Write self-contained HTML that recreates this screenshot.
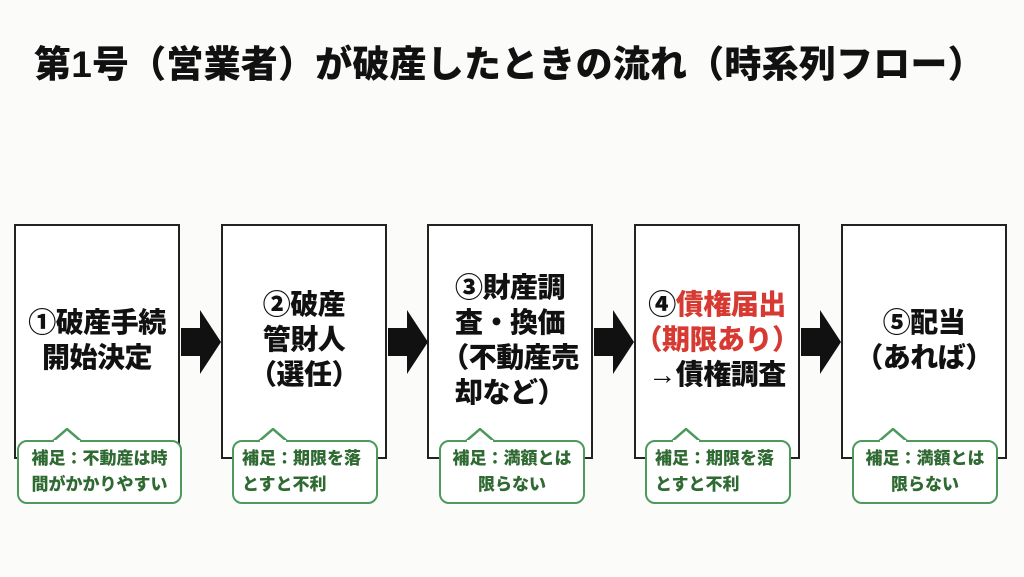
<!DOCTYPE html>
<html><head><meta charset="utf-8"><style>
body{margin:0;width:1024px;height:577px;background:#fbfbfa;position:relative;overflow:hidden;font-family:"Liberation Sans","Noto Sans CJK JP",sans-serif;}
.t{position:absolute;left:34px;top:34px;font-size:37px;font-weight:900;color:#111;white-space:nowrap;letter-spacing:0.2px}
.b{position:absolute;top:224px;width:166px;height:235px;border:2px solid #222;background:#fff;box-sizing:border-box;display:flex;align-items:center;justify-content:center;text-align:center;font-size:28px;font-weight:900;line-height:35px;color:#111;padding-bottom:4px;white-space:nowrap;letter-spacing:-0.5px}
.a{position:absolute;top:310px;width:40px;height:64px}
.n{position:absolute;top:440px;height:64px;border:2.5px solid #4c9a5c;border-radius:10px;background:#fff;box-sizing:border-box;color:#2f6a32;font-weight:900;font-size:17px;line-height:26px;display:flex;align-items:center;justify-content:center;text-align:center;white-space:nowrap}
.tail{position:absolute;top:428px;width:30px;height:14px}
.r{color:#d63a32}
</style></head><body>
<div class="t">第1号（営業者）が破産したときの流れ（時系列フロー）</div>

<div class="b" style="left:14px"><div>①破産手続<br>開始決定</div></div>
<div class="b" style="left:221px"><div>②破産<br>管財人<br>（選任）</div></div>
<div class="b" style="left:427px"><div>③財産調<br>査・換価<br>（不動産売<br>却など）</div></div>
<div class="b" style="left:634px"><div>④<span class="r">債権届出<br>（期限あり）</span><br>→債権調査</div></div>
<div class="b" style="left:841px"><div>⑤配当<br>（あれば）</div></div>

<svg class="a" style="left:181px" viewBox="0 0 40 64"><polygon points="0,18 19,18 19,0 40,32 19,64 19,46 0,46" fill="#111"/></svg>
<svg class="a" style="left:388px" viewBox="0 0 40 64"><polygon points="0,18 19,18 19,0 40,32 19,64 19,46 0,46" fill="#111"/></svg>
<svg class="a" style="left:594px" viewBox="0 0 40 64"><polygon points="0,18 19,18 19,0 40,32 19,64 19,46 0,46" fill="#111"/></svg>
<svg class="a" style="left:801px" viewBox="0 0 40 64"><polygon points="0,18 19,18 19,0 40,32 19,64 19,46 0,46" fill="#111"/></svg>

<div class="n" style="left:17px;width:165px"><div>補足：不動産は時<br>間がかかりやすい</div></div>
<div class="n" style="left:232px;width:146px;justify-content:flex-start;text-align:left;padding-left:8px"><div>補足：期限を落<br>とすと不利</div></div>
<div class="n" style="left:439px;width:146px"><div>補足：満額とは<br>限らない</div></div>
<div class="n" style="left:645px;width:146px;justify-content:flex-start;text-align:left;padding-left:8px"><div>補足：期限を落<br>とすと不利</div></div>
<div class="n" style="left:852px;width:146px"><div>補足：満額とは<br>限らない</div></div>

<svg class="tail" style="left:52px" viewBox="0 0 30 14"><polygon points="0,14 15,1 30,14" fill="#fff" stroke="#4c9a5c" stroke-width="2.5"/><rect x="2" y="12" width="26" height="4" fill="#fff"/></svg>
<svg class="tail" style="left:258px" viewBox="0 0 30 14"><polygon points="0,14 15,1 30,14" fill="#fff" stroke="#4c9a5c" stroke-width="2.5"/><rect x="2" y="12" width="26" height="4" fill="#fff"/></svg>
<svg class="tail" style="left:465px" viewBox="0 0 30 14"><polygon points="0,14 15,1 30,14" fill="#fff" stroke="#4c9a5c" stroke-width="2.5"/><rect x="2" y="12" width="26" height="4" fill="#fff"/></svg>
<svg class="tail" style="left:671px" viewBox="0 0 30 14"><polygon points="0,14 15,1 30,14" fill="#fff" stroke="#4c9a5c" stroke-width="2.5"/><rect x="2" y="12" width="26" height="4" fill="#fff"/></svg>
<svg class="tail" style="left:878px" viewBox="0 0 30 14"><polygon points="0,14 15,1 30,14" fill="#fff" stroke="#4c9a5c" stroke-width="2.5"/><rect x="2" y="12" width="26" height="4" fill="#fff"/></svg>
</body></html>
